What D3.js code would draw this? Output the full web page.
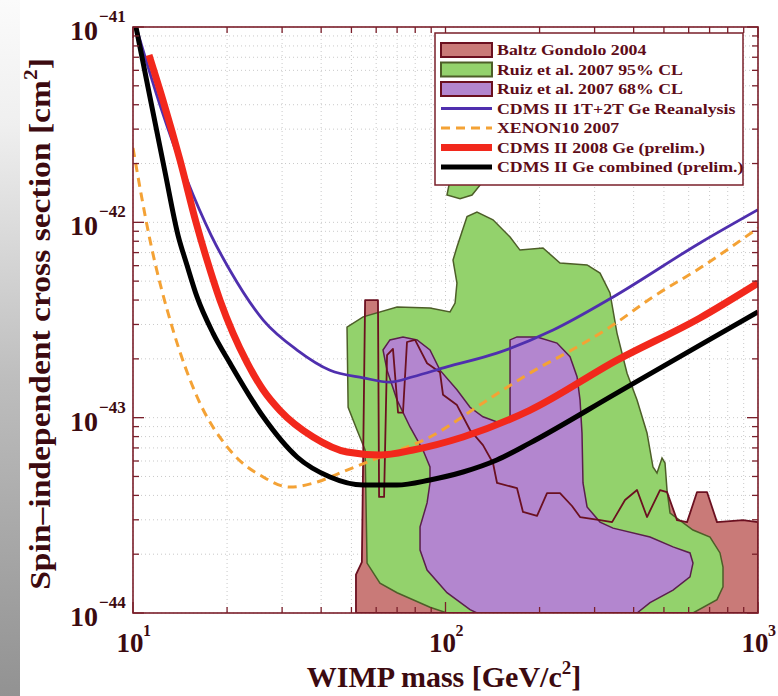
<!DOCTYPE html>
<html><head><meta charset="utf-8">
<script src="https://cdn.jsdelivr.net/npm/d3@7"></script>
<style>html,body{margin:0;padding:0;background:#fff;} svg{display:block;}</style>
</head><body><svg id="c" width="778" height="696"></svg>
<script>
// ---------- data ----------
const xTickValues = [10, 100, 1000];
const xTickExponents = ["1", "2", "3"];
const yTickValues = [1e-44, 1e-43, 1e-42, 1e-41];
const yTickExponents = ["\u221244", "\u221243", "\u221242", "\u221241"];

// [WIMP mass GeV/c^2, cross section cm^2]
const baltzGondolo2004 = [[51.7,1e-44],[51.7,1.57e-44],[54.0,1.82e-44],[55.3,4.0e-43],[60.8,4.0e-43],[61.3,3.93e-44],[63.6,3.93e-44],[65.0,2.09e-43],[67.9,2.25e-43],[70.5,1.06e-43],[73.1,1.06e-43],[75.3,2.44e-43],[79.9,2.5e-43],[87.3,1.9e-43],[96.0,1.71e-43],[98.2,1.31e-43],[108.8,1.16e-43],[119.8,8.65e-44],[131.8,7.24e-44],[141.9,5.86e-44],[146.2,4.63e-44],[169.3,4.36e-44],[177.0,3.29e-44],[196.3,3.14e-44],[211.3,4.11e-44],[232.5,4.11e-44],[254.0,3.53e-44],[269.5,3.1e-44],[312.2,2.99e-44],[341.2,2.92e-44],[375.4,3.79e-44],[410.1,4.26e-44],[441.4,3.1e-44],[485.8,4.26e-44],[511.5,4.16e-44],[550.7,2.99e-44],[592.9,2.92e-44],[638.1,4.16e-44],[686.8,4.16e-44],[739.3,2.92e-44],[895.4,2.99e-44],[1000,2.92e-44],[1000,1e-44]];
const ruiz2007CL95 = [[101.1,1e-44],[89.2,1.07e-44],[70.0,1.27e-44],[61.7,1.42e-44],[56.1,1.8e-44],[55.3,6.83e-44],[52.1,8.65e-44],[48.8,1.13e-43],[48.4,2.91e-43],[54.5,3.28e-43],[70.0,3.69e-43],[89.2,3.64e-43],[103.4,3.48e-43],[107.3,3.86e-43],[108.8,4.89e-43],[105.7,6.41e-43],[108.8,7.47e-43],[117.2,1.07e-42],[126.1,1.13e-42],[141.9,1.03e-42],[160.9,8.41e-43],[173.1,7.21e-43],[205.1,7.39e-43],[232.5,6.19e-43],[283.8,6.05e-43],[312.2,5.5e-43],[336.0,4.35e-43],[353.8,2.71e-43],[381.0,1.69e-43],[410.1,1.23e-43],[441.4,8.35e-44],[461.3,5.59e-44],[475.1,5.21e-44],[493.0,6.22e-44],[504.0,5.86e-44],[511.5,4.26e-44],[523.0,3.25e-44],[619.4,2.66e-44],[702.1,2.45e-44],[755.8,2.03e-44],[772.7,1.72e-44],[772.7,1.36e-44],[739.3,1.17e-44],[619.4,1e-44]];
const ruiz2007CL95Island = [[101.1,1.38e-42],[103.4,1.65e-42],[111.3,1.81e-42],[124.3,1.75e-42],[128.9,1.55e-42],[121.6,1.38e-42],[111.3,1.32e-42]];
const ruiz2007CL68 = [[126.1,1e-44],[119.8,1.04e-44],[101.1,1.27e-44],[87.3,1.66e-44],[82.9,2.1e-44],[82.9,2.76e-44],[87.3,3.66e-44],[89.2,4.63e-44],[89.2,5.59e-44],[84.7,6.83e-44],[77.0,8.96e-44],[70.0,1.23e-43],[65.0,1.75e-43],[63.1,2.22e-43],[66.4,2.5e-43],[73.1,2.59e-43],[81.1,2.5e-43],[89.2,2.22e-43],[96.0,1.75e-43],[108.8,1.39e-43],[119.8,1.13e-43],[131.8,1.01e-43],[146.2,9.5e-44],[160.9,9.73e-44],[160.9,2.5e-43],[169.3,2.59e-43],[196.3,2.59e-43],[227.4,2.41e-43],[250.3,2.05e-43],[263.6,1.62e-43],[269.5,1.23e-43],[273.4,8.35e-44],[275.4,4.63e-44],[283.8,3.49e-44],[312.2,2.92e-44],[343.6,2.72e-44],[451.3,2.45e-44],[534.6,2.18e-44],[605.9,2.03e-44],[619.4,1.8e-44],[605.9,1.53e-44],[534.6,1.31e-44],[451.3,1.13e-44],[410.1,1e-44]];

const cdmsReanalysis = [[10.3,9.65e-42],[12.2,3.99e-42],[14.88,1.65e-42],[17.77,8.61e-43],[20.4,5.7e-43],[26.1,3.16e-43],[33.5,2.22e-43],[42.7,1.75e-43],[54.5,1.6e-43],[66.4,1.52e-43],[78.7,1.62e-43],[101,1.82e-43],[146,2.14e-43],[221,2.81e-43],[344,4.15e-43],[652,7.84e-43],[1000,1.16e-42]];
const xenon10 = [[10,2.4e-42],[11.33,8.13e-43],[13.43,2.81e-43],[16.03,1.28e-43],[20.4,6.83e-44],[26.1,4.97e-44],[31.8,4.41e-44],[37.7,4.62e-44],[48.4,5.39e-44],[61.7,6.29e-44],[89.2,7.96e-44],[131.8,1.19e-43],[186,1.69e-43],[263.6,2.3e-43],[336,2.91e-43],[461,4.15e-43],[652,5.83e-43],[1000,9.35e-43]];
const cdms2008 = [[11.25,7.19e-42],[12.47,4.22e-42],[14.14,2.08e-42],[15.91,1.0e-42],[17.25,6.41e-43],[18.98,4.0e-43],[20.89,2.71e-43],[23.2,1.91e-43],[26.1,1.385e-43],[29.5,1.09e-43],[37.7,7.96e-44],[48.4,6.67e-44],[61.7,6.44e-44],[78.7,6.83e-44],[113.8,7.96e-44],[186,1.09e-43],[354,1.97e-43],[652,3.24e-43],[1000,4.89e-43]];
const cdmsCombined = [[10.22,1e-41],[11.33,4.38e-42],[12.66,1.81e-42],[13.93,8.61e-43],[14.88,6.05e-43],[16.03,4.15e-43],[18.03,2.71e-43],[20.4,1.91e-43],[26.1,1.01e-43],[33.5,6.29e-44],[42.7,4.97e-44],[54.5,4.52e-44],[69.9,4.52e-44],[89.2,4.8e-44],[113.8,5.27e-44],[146,6.07e-44],[186,7.41e-44],[354,1.34e-43],[652,2.35e-43],[1000,3.48e-43]];

const legendLabels = ["Baltz Gondolo 2004","Ruiz et al. 2007 95% CL","Ruiz et al. 2007 68% CL","CDMS II 1T+2T Ge Reanalysis","XENON10 2007","CDMS II 2008 Ge (prelim.)","CDMS II Ge combined (prelim.)"];

// ---------- styles ----------
const C = {
  frame:"#7a1f2a", text:"#3c0a10", legendText:"#5e0c18",
  pinkFill:"#c97a78", pinkLine:"#6b1020",
  greenFill:"#93d26c", greenLine:"#4d5e28",
  purpleFill:"#b386cf", purpleLine:"#5a1f4c",
  blue:"#4f2fae", orange:"#f4a235", red:"#f2281c", black:"#000"
};
const legendStyles = [
  {type:"box", fill:C.pinkFill, stroke:C.pinkLine},
  {type:"box", fill:C.greenFill, stroke:C.greenLine},
  {type:"box", fill:C.purpleFill, stroke:C.pinkLine},
  {type:"line", stroke:C.blue, w:3},
  {type:"line", stroke:C.orange, w:3, dash:"9,6"},
  {type:"line", stroke:C.red, w:7},
  {type:"line", stroke:C.black, w:5}
];

const L=133, R=758, T=27, B=613;
const svg = d3.select("#c");
const x = d3.scaleLog().domain([10,1000]).range([L,R]);
const y = d3.scaleLog().domain([1e-44,1e-41]).range([B,T]);
const SERIF = "'Liberation Serif','DejaVu Serif',serif";

// background strip
const defs = svg.append("defs");
const g1 = defs.append("linearGradient").attr("id","strip").attr("x1",0).attr("y1",0).attr("x2",0).attr("y2",1);
[[0,"#fbfbfb"],[0.18,"#efefef"],[0.55,"#bdbdbd"],[1,"#929292"]].forEach(s=>g1.append("stop").attr("offset",s[0]).attr("stop-color",s[1]));
svg.append("rect").attr("x",0).attr("y",0).attr("width",20).attr("height",696).attr("fill","url(#strip)");
defs.append("clipPath").attr("id","plot").append("rect").attr("x",L).attr("y",T).attr("width",R-L).attr("height",B-T);

// grid
const grid = svg.append("g").attr("stroke","#c9c9c9").attr("stroke-width",1).attr("stroke-dasharray","1,3");
x.ticks().forEach(v=>grid.append("line").attr("x1",x(v)).attr("x2",x(v)).attr("y1",T).attr("y2",B));
y.ticks().forEach(v=>grid.append("line").attr("y1",y(v)).attr("y2",y(v)).attr("x1",L).attr("x2",R));

const plot = svg.append("g").attr("clip-path","url(#plot)");
const area = d3.line().x(d=>x(d[0])).y(d=>y(d[1])).curve(d3.curveLinearClosed);
const curve = d3.line().x(d=>x(d[0])).y(d=>y(d[1])).curve(d3.curveMonotoneX);

plot.append("path").attr("d",area(baltzGondolo2004)).attr("fill",C.pinkFill).attr("stroke","none");
plot.append("path").attr("d",area(ruiz2007CL95)).attr("fill",C.greenFill).attr("stroke",C.greenLine).attr("stroke-width",1.5);
plot.append("path").attr("d",area(ruiz2007CL95Island)).attr("fill",C.greenFill).attr("stroke",C.greenLine).attr("stroke-width",1.5);
plot.append("path").attr("d",area(ruiz2007CL68)).attr("fill",C.purpleFill).attr("stroke",C.purpleLine).attr("stroke-width",1.5);
plot.append("path").attr("d",area(baltzGondolo2004)).attr("fill","none").attr("stroke",C.pinkLine).attr("stroke-width",1.8).attr("stroke-linejoin","round");

plot.append("path").attr("d",curve(xenon10)).attr("fill","none").attr("stroke",C.orange).attr("stroke-width",3).attr("stroke-dasharray","9,6");
plot.append("path").attr("d",curve(cdmsReanalysis)).attr("fill","none").attr("stroke",C.blue).attr("stroke-width",2.8);
plot.append("path").attr("d",curve(cdms2008)).attr("fill","none").attr("stroke",C.red).attr("stroke-width",7);
plot.append("path").attr("d",curve(cdmsCombined)).attr("fill","none").attr("stroke",C.black).attr("stroke-width",5);

// frame + ticks
svg.append("rect").attr("x",L).attr("y",T).attr("width",R-L).attr("height",B-T).attr("fill","none").attr("stroke",C.frame).attr("stroke-width",1.6);
const ticks = svg.append("g").attr("stroke",C.frame).attr("stroke-width",1.3);
const isMajor = v => Math.abs(Math.log10(v)-Math.round(Math.log10(v)))<1e-6;
x.ticks().forEach(v=>{const n=isMajor(v)?11:6;
  ticks.append("line").attr("x1",x(v)).attr("x2",x(v)).attr("y1",B).attr("y2",B-n);
  ticks.append("line").attr("x1",x(v)).attr("x2",x(v)).attr("y1",T).attr("y2",T+n);});
y.ticks().forEach(v=>{const n=isMajor(v)?11:6;
  ticks.append("line").attr("y1",y(v)).attr("y2",y(v)).attr("x1",L).attr("x2",L+n);
  ticks.append("line").attr("y1",y(v)).attr("y2",y(v)).attr("x1",R).attr("x2",R-n);});

// tick labels
const lab = svg.append("g").attr("font-family",SERIF).attr("font-weight","bold").attr("fill",C.text);
xTickValues.forEach((v,i)=>{
  lab.append("text").attr("x",x(v)-3).attr("y",652).attr("text-anchor","middle").attr("font-size",27).text("10");
  lab.append("text").attr("x",x(v)+10).attr("y",636).attr("font-size",16).text(xTickExponents[i]);
});
yTickValues.forEach((v,i)=>{
  lab.append("text").attr("x",98).attr("y",y(v)+13).attr("text-anchor","end").attr("font-size",28).text("10");
  lab.append("text").attr("x",99).attr("y",y(v)-5).attr("font-size",17).text(yTickExponents[i]);
});

// axis titles
const xt = lab.append("text").attr("x",444).attr("y",687).attr("text-anchor","middle").attr("font-size",30);
xt.append("tspan").text("WIMP mass [GeV/c");
xt.append("tspan").attr("font-size",19).attr("dy",-13).text("2");
xt.append("tspan").attr("dy",13).text("]");
const yt = lab.append("g").attr("transform","translate(50,324) rotate(-90) scale(1.12,1)")
  .append("text").attr("x",0).attr("y",0).attr("text-anchor","middle").attr("font-size",30);
yt.append("tspan").text("Spin\u2013independent cross section [cm");
yt.append("tspan").attr("font-size",19).attr("dy",-13).text("2");
yt.append("tspan").attr("dy",13).text("]");

// legend
const lg = svg.append("g");
lg.append("rect").attr("x",435).attr("y",33).attr("width",308).attr("height",152).attr("fill","#fff").attr("stroke",C.frame).attr("stroke-width",1.5);
legendLabels.forEach((t,i)=>{
  const cy = 50 + i*19.5, s = legendStyles[i];
  if(s.type==="box"){
    lg.append("rect").attr("x",441).attr("y",cy-7).attr("width",51).attr("height",14).attr("fill",s.fill).attr("stroke",s.stroke).attr("stroke-width",2);
  } else {
    lg.append("line").attr("x1",441).attr("x2",492).attr("y1",cy).attr("y2",cy).attr("stroke",s.stroke).attr("stroke-width",s.w).attr("stroke-dasharray",s.dash||null);
  }
  lg.append("g").attr("transform",`translate(497,${cy+5}) scale(1.15,1)`)
    .append("text").attr("font-family",SERIF).attr("font-weight","bold").attr("font-size",15.5).attr("fill",C.legendText).text(t);
});
</script></body></html>
